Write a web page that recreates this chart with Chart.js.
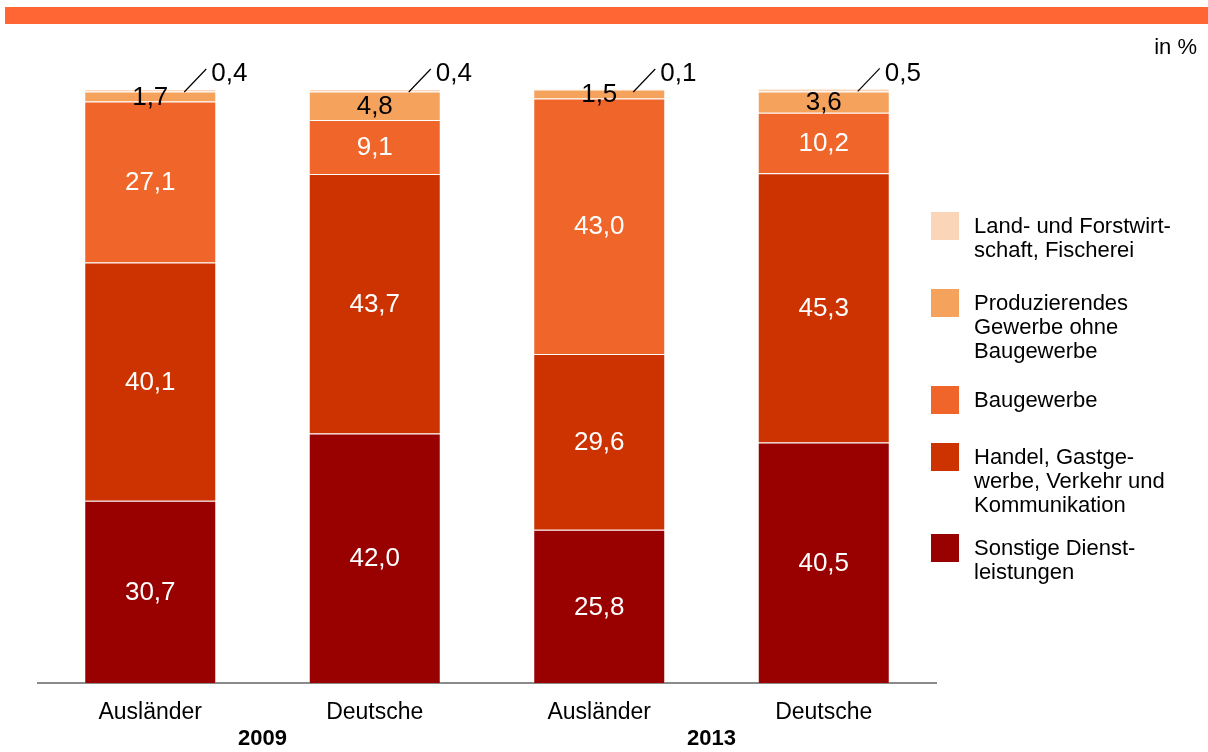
<!DOCTYPE html>
<html><head><meta charset="utf-8">
<script src="https://cdn.jsdelivr.net/npm/chart.js@4.4.1/dist/chart.umd.min.js"></script>
<style>html,body{margin:0;padding:0;background:#fff;}#wrap{width:1208px;height:752px;position:relative;}</style>
</head><body><div id="wrap"><canvas id="c" width="1208" height="752"></canvas></div>
<script>
// ---- data ----
const categories = ['Ausländer', 'Deutsche', 'Ausländer', 'Deutsche'];
const years = ['2009', '2013'];
const sonstige = [30.7, 42.0, 25.8, 40.5];
const handel = [40.1, 43.7, 29.6, 45.3];
const baugewerbe = [27.1, 9.1, 43.0, 10.2];
const produzierend = [1.7, 4.8, 1.5, 3.6];
const landForst = [0.4, 0.4, 0.1, 0.5];
const seriesNames = [
  ['Sonstige Dienst-', 'leistungen'],
  ['Handel, Gastge-', 'werbe, Verkehr und', 'Kommunikation'],
  ['Baugewerbe'],
  ['Produzierendes', 'Gewerbe ohne', 'Baugewerbe'],
  ['Land- und Forstwirt-', 'schaft, Fischerei']
];
const unitLabel = 'in %';

// ---- styles ----
const FONT = '"Liberation Sans", Arial, Helvetica, sans-serif';
const colors = ['#990000', '#CC3300', '#F06529', '#F5A25D', '#FBD5B8'];
const labelModes = ['white', 'white', 'white', 'black', 'leader'];
const legendCenters = [548, 457, 400, 303, 226]; // vertical centres of legend squares, per dataset

const seriesValues = [sonstige, handel, baugewerbe, produzierend, landForst];
const fmt = v => v.toFixed(1).replace('.', ',');

const datasets = seriesValues.map((vals, i) => ({
  label: seriesNames[i].join(' '),
  data: vals,
  backgroundColor: colors[i],
  borderColor: 'rgba(255,255,255,0.3)',
  borderWidth: 1,
  barPercentage: 0.588,
  categoryPercentage: 1.0
}));

const decorPlugin = {
  id: 'decor',
  beforeDraw(chart) {
    const ctx = chart.ctx;
    ctx.save();
    ctx.fillStyle = '#FFFFFF';
    ctx.fillRect(0, 0, chart.width, chart.height);
    ctx.fillStyle = '#FF6634';
    ctx.fillRect(5, 7, 1203, 17);
    ctx.fillStyle = '#000';
    ctx.font = '22px ' + FONT;
    ctx.textAlign = 'right';
    ctx.textBaseline = 'middle';
    ctx.fillText(unitLabel, 1197, 48);
    ctx.restore();
  },
  afterDatasetsDraw(chart) {
    const ctx = chart.ctx;
    ctx.save();
    chart.data.datasets.forEach((ds, di) => {
      const meta = chart.getDatasetMeta(di);
      meta.data.forEach((el, i) => {
        const txt = fmt(ds.data[i]);
        const cx = el.x;
        const cy = (el.y + el.base) / 2;
        ctx.font = '26px ' + FONT;
        ctx.textBaseline = 'middle';
        const mode = labelModes[di];
        if (mode === 'white' || mode === 'black') {
          ctx.fillStyle = mode === 'white' ? '#FFFFFF' : '#000000';
          ctx.textAlign = 'center';
          ctx.fillText(txt, cx, cy + 1);
        } else {
          const top = el.y;
          ctx.strokeStyle = '#000';
          ctx.lineWidth = 1.2;
          ctx.beginPath();
          ctx.moveTo(cx + 34, top + 3);
          ctx.lineTo(cx + 56, top - 20);
          ctx.stroke();
          ctx.fillStyle = '#000';
          ctx.textAlign = 'left';
          ctx.fillText(txt, cx + 61, top - 15);
        }
      });
    });
    ctx.restore();
  },
  afterDraw(chart) {
    const ctx = chart.ctx;
    const xs = chart.scales.x;
    ctx.save();
    // year group labels
    ctx.fillStyle = '#000';
    ctx.font = 'bold 22px ' + FONT;
    ctx.textAlign = 'center';
    ctx.textBaseline = 'middle';
    years.forEach((y, k) => {
      const x = (xs.getPixelForValue(2 * k) + xs.getPixelForValue(2 * k + 1)) / 2;
      ctx.fillText(y, x, 739);
    });
    // legend
    ctx.font = '22px ' + FONT;
    ctx.textAlign = 'left';
    for (let di = seriesNames.length - 1; di >= 0; di--) {
      const c = legendCenters[di];
      ctx.fillStyle = colors[di];
      ctx.fillRect(931, c - 14, 28, 28);
      ctx.fillStyle = '#000';
      seriesNames[di].forEach((line, li) => {
        ctx.fillText(line, 974, c + 1 + li * 24);
      });
    }
    ctx.restore();
  }
};

new Chart(document.getElementById('c'), {
  type: 'bar',
  data: { labels: categories, datasets },
  options: {
    responsive: false,
    animation: false,
    devicePixelRatio: 1,
    layout: { padding: { left: 38, right: 272, top: 89, bottom: 0 } },
    plugins: { legend: { display: false }, tooltip: { enabled: false } },
    scales: {
      x: {
        stacked: true,
        grid: { display: false, drawTicks: false, tickLength: 0 },
        border: { display: true, color: '#8a8a8a', width: 2 },
        ticks: { color: '#000', font: { size: 23, family: FONT }, padding: 16, maxRotation: 0 },
        afterFit(scale) { scale.height = 69; }
      },
      y: {
        stacked: true,
        display: false,
        min: 0,
        max: 100
      }
    }
  },
  plugins: [decorPlugin]
});
</script>
</body></html>
